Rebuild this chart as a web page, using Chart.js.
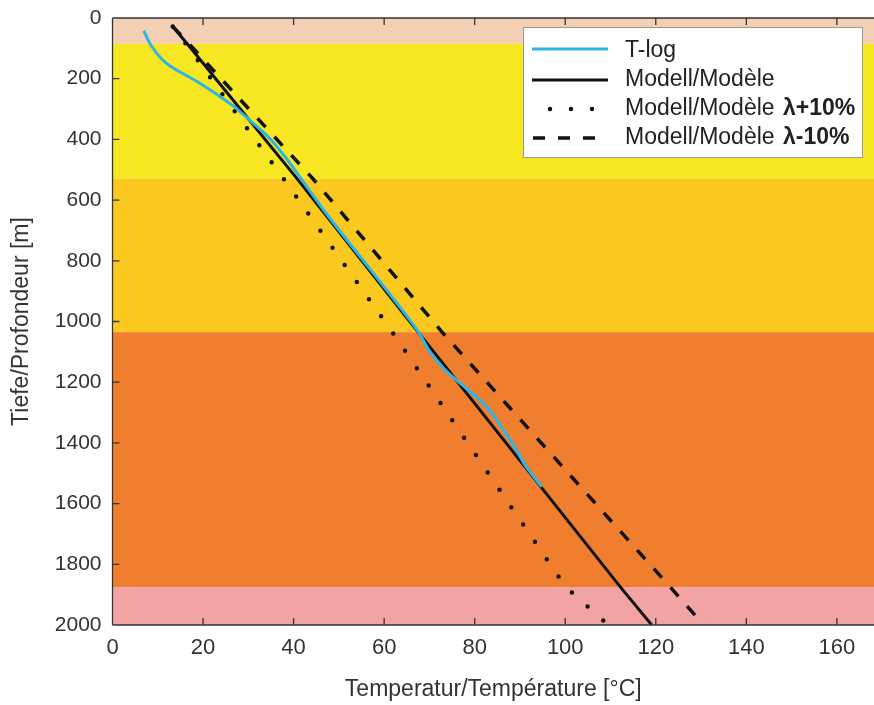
<!DOCTYPE html>
<html>
<head>
<meta charset="utf-8">
<script src="https://cdn.jsdelivr.net/npm/chart.js@4"></script>
<style>
  body { margin: 0; background: #fff; }
  #wrap { width: 874px; height: 705px; }
</style>
</head>
<body>
<div id="wrap"><canvas id="chart"></canvas></div>
<script>
// layers: depth ranges [top, bottom] in m
var layerTops = [0, 85, 530, 1035, 1875];
var layerBottoms = [85, 530, 1035, 1875, 2000];
var layerColors = ['#f3cfb4', '#f7e622', '#fac81e', '#ef7f2f', '#f2a4a4'];

// T-log: temperature [°C] and depth [m]
var tlogTemp  = [6.9, 8.5, 10.9, 13.4, 19.2, 26.5, 31.0, 35.0, 38.6, 41.2, 47.5, 54.9, 62.3, 67.6, 70.1, 73.5, 77.3, 81.2, 83.7, 86.0, 88.7, 91.2, 94.8];
var tlogDepth = [42, 90, 136, 165, 214, 288, 346, 401, 467, 520, 650, 790, 930, 1035, 1100, 1160, 1210, 1260, 1300, 1350, 1410, 1475, 1545];

// model curves (depth at layer boundaries)
var modelDepth = [28, 85, 530, 1035, 1875, 2000];
var modelTemp  = [13.3, 16.5, 40.8, 67.5, 112.2, 119.1];
var plusTemp   = [13.3, 16.2, 37.8, 61.8, 100.1, 109.5];
var minusTemp  = [13.3, 16.9, 44.3, 72.8, 123.2, 130.6];

var xTicks = [0, 20, 40, 60, 80, 100, 120, 140, 160];
var yTicks = [0, 200, 400, 600, 800, 1000, 1200, 1400, 1600, 1800, 2000];

var legendLabels = ['T-log', 'Modell/Modèle', 'Modell/Modèle', 'Modell/Modèle'];
var legendSuffix = ['', '', 'λ+10%', 'λ-10%'];

function pts(xs, ys) {
  return xs.map(function (x, i) { return { x: x, y: ys[i] }; });
}
function fixedTicks(vals) {
  return function (s) { s.ticks = vals.map(function (v) { return { value: v }; }); };
}

var FONT = "'Liberation Sans', Arial, sans-serif";

var bandsPlugin = {
  id: 'bands',
  beforeDatasetsDraw: function (chart) {
    var ctx = chart.ctx, a = chart.chartArea, ys = chart.scales.y;
    ctx.save();
    for (var i = 0; i < layerTops.length; i++) {
      var y1 = ys.getPixelForValue(layerTops[i]);
      var y2 = ys.getPixelForValue(layerBottoms[i]);
      ctx.fillStyle = layerColors[i];
      ctx.fillRect(a.left, y1, a.right - a.left, y2 - y1);
    }
    ctx.restore();
  }
};

var framePlugin = {
  id: 'frame',
  afterDatasetsDraw: function (chart) {
    var ctx = chart.ctx, a = chart.chartArea;
    var xs = chart.scales.x, ys = chart.scales.y;
    ctx.save();
    ctx.strokeStyle = '#333';
    ctx.lineWidth = 1.3;
    ctx.beginPath();
    ctx.moveTo(a.left, a.top); ctx.lineTo(a.right, a.top);
    ctx.moveTo(a.left, a.top); ctx.lineTo(a.left, a.bottom);
    ctx.moveTo(a.left, a.bottom); ctx.lineTo(a.right, a.bottom);
    xs.ticks.forEach(function (t) {
      var px = xs.getPixelForValue(t.value);
      ctx.moveTo(px, a.bottom); ctx.lineTo(px, a.bottom - 7);
      ctx.moveTo(px, a.top); ctx.lineTo(px, a.top + 7);
    });
    ys.ticks.forEach(function (t) {
      var py = ys.getPixelForValue(t.value);
      ctx.moveTo(a.left, py); ctx.lineTo(a.left + 7, py);
    });
    ctx.stroke();

    // legend box
    var bx = 523, by = 27, bw = 339, bh = 130;
    ctx.fillStyle = '#ffffff';
    ctx.fillRect(bx, by, bw, bh);
    ctx.strokeStyle = '#999';
    ctx.lineWidth = 1;
    ctx.strokeRect(bx + 0.5, by + 0.5, bw, bh);
    var rowY = [49, 80, 109, 138];
    var textY = [51, 80, 109, 138];
    chart.data.datasets.forEach(function (ds, i) {
      var y = rowY[i];
      ctx.save();
      ctx.strokeStyle = ds.borderColor;
      ctx.lineWidth = ds.borderWidth;
      ctx.lineCap = ds.borderCapStyle || 'butt';
      ctx.setLineDash(ds.borderDash || []);
      ctx.beginPath();
      if (i === 2) { ctx.moveTo(550, y); ctx.lineTo(600, y); }
      else if (i === 3) { ctx.moveTo(533, y); ctx.lineTo(608, y); }
      else { ctx.moveTo(532, y); ctx.lineTo(608, y); }
      ctx.stroke();
      ctx.restore();
      ctx.fillStyle = '#222';
      ctx.textBaseline = 'middle';
      ctx.font = '23px ' + FONT;
      ctx.fillText(legendLabels[i], 625, textY[i]);
      if (legendSuffix[i]) {
        var w = ctx.measureText(legendLabels[i] + ' ').width;
        ctx.font = 'bold 23px ' + FONT;
        ctx.fillText(legendSuffix[i], 627 + w, textY[i]);
      }
    });
    ctx.restore();
  }
};

new Chart(document.getElementById('chart'), {
  type: 'scatter',
  data: {
    datasets: [
      { label: 'T-log', data: pts(tlogTemp, tlogDepth), showLine: true, borderColor: '#2bb6e6', borderWidth: 3, pointRadius: 0, tension: 0.3 },
      { label: 'Modell/Modèle', data: pts(modelTemp, modelDepth), showLine: true, borderColor: '#111', borderWidth: 3, pointRadius: 0 },
      { label: 'Modell/Modèle λ+10%', data: pts(plusTemp, modelDepth), showLine: true, borderColor: '#111', borderWidth: 4.5, borderDash: [0, 21], borderCapStyle: 'round', pointRadius: 0 },
      { label: 'Modell/Modèle λ-10%', data: pts(minusTemp, modelDepth), showLine: true, borderColor: '#111', borderWidth: 3.5, borderDash: [12, 13], pointRadius: 0 }
    ]
  },
  options: {
    responsive: true,
    maintainAspectRatio: false,
    animation: false,
    layout: { padding: { top: 18, right: 0, left: 0, bottom: 0 } },
    plugins: { legend: { display: false }, tooltip: { enabled: false } },
    scales: {
      x: {
        type: 'linear', min: 0, max: 168.2,
        grid: { display: false, drawTicks: false },
        border: { display: false },
        ticks: { color: '#333', font: { family: FONT, size: 22 }, padding: 10, maxRotation: 0 },
        afterBuildTicks: fixedTicks(xTicks),
        afterFit: function (s) { s.height = 80; s.paddingLeft = 0; s.paddingRight = 0; },
        title: { display: true, text: 'Temperatur/Température [°C]', color: '#333', font: { family: FONT, size: 23 }, padding: { top: 0, bottom: 2 } }
      },
      y: {
        type: 'linear', min: 0, max: 2000, reverse: true,
        grid: { display: false, drawTicks: false },
        border: { display: false },
        ticks: { color: '#333', font: { family: FONT, size: 21 }, padding: 11, callback: function (v) { return String(v); } },
        afterBuildTicks: fixedTicks(yTicks),
        afterFit: function (s) { s.width = 112.5; s.paddingTop = 0; s.paddingBottom = 0; },
        title: { display: true, text: 'Tiefe/Profondeur [m]', color: '#333', font: { family: FONT, size: 23 }, padding: { top: 8, bottom: 0 } }
      }
    }
  },
  plugins: [bandsPlugin, framePlugin]
});
</script>
</body>
</html>
